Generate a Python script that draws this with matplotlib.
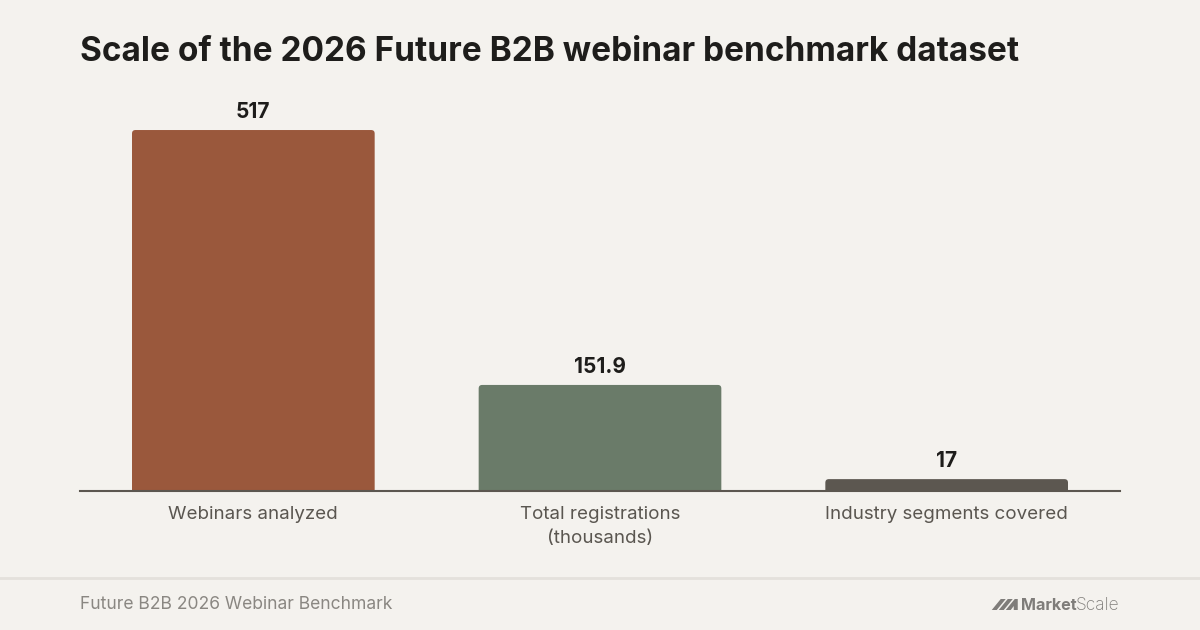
import matplotlib
matplotlib.use("Agg")
import matplotlib.pyplot as plt
from matplotlib.patches import FancyBboxPatch, Polygon
from matplotlib.lines import Line2D

categories = ["Webinars analyzed", "Total registrations\n(thousands)", "Industry segments covered"]
values = [517, 151.9, 17]
value_labels = ["517", "151.9", "17"]
bar_colors = ["#9A583C", "#6A7B69", "#5C5750"]

title = "Scale of the 2026 Future B2B webinar benchmark dataset"
footer = "Future B2B 2026 Webinar Benchmark"

BG = "#F4F2EE"
plt.rcParams['font.family'] = ['Inter', 'DejaVu Sans']

W, H = 1200, 630
fig = plt.figure(figsize=(W / 100, H / 100), dpi=100, facecolor=BG)

# axes: x 80..1120 px, y (from top) 100..491 px
ax = fig.add_axes([80 / W, 1 - 491 / H, 1040 / W, 391 / H])
ax.set_facecolor(BG)
ymax = 560
ax.set_xlim(-0.5, 2.5)
ax.set_ylim(0, ymax)

bars = ax.bar(range(len(values)), values, width=0.70, color=bar_colors)
xpp = 3 / 1040.0
ypp = ymax / 391.0
r = 3.5
for b, c in zip(bars, bar_colors):
    x0, w, h = b.get_x(), b.get_width(), b.get_height()
    b.set_visible(False)
    ext = r * ypp
    p = FancyBboxPatch((x0, -ext), w, h + ext,
                       boxstyle=f"round,pad=0,rounding_size={r * xpp}",
                       mutation_aspect=ypp / xpp,
                       facecolor=c, edgecolor="none", zorder=2)
    ax.add_patch(p)

for i, (v, lab) in enumerate(zip(values, value_labels)):
    ax.annotate(lab, (i, v), xytext=(0, 12), textcoords="offset pixels",
                ha="center", va="baseline", fontsize=15, fontweight="bold",
                color="#1E1D1B")

for s in ["top", "right", "left"]:
    ax.spines[s].set_visible(False)
ax.spines["bottom"].set_color("#5C5750")
ax.spines["bottom"].set_linewidth(1.5)
ax.spines["bottom"].set_zorder(3)
ax.set_yticks([])
ax.set_xticks(range(len(categories)))
ax.set_xticklabels(categories, fontsize=13.5, color="#5A5650", linespacing=1.5)
ax.tick_params(axis="x", length=0, pad=11)

fig.text(80 / W, 1 - 61 / H, title, fontsize=24, fontweight="bold",
         color="#1E1D1B", ha="left", va="baseline")

# footer separator
fig.add_artist(Line2D([0, 1], [1 - 578 / H, 1 - 578 / H], color="#E4E1DC",
                      linewidth=2, transform=fig.transFigure))
fig.text(80 / W, 1 - 609 / H, footer, fontsize=12.6, color="#8A8782",
         ha="left", va="baseline")

# MarketScale logo
gray = "#7F7D7A"
t1 = fig.text(1119 / W, 1 - 610 / H, "Scale", fontsize=12.5, color=gray,
              ha="right", va="baseline", fontweight="light")
fig.canvas.draw()
bb = t1.get_window_extent()
t2 = fig.text((bb.x0 + 1) / W, 1 - 610 / H, "Market", fontsize=11.6, color=gray,
              ha="right", va="baseline", fontweight="bold")
fig.canvas.draw()
bb2 = t2.get_window_extent()
xr = bb2.x0 - 3          # right edge of icon
yb = H - 610
yt = H - 599
icon_shapes = [
    [(xr - 26, yb), (xr - 21, yb), (xr - 12, yt), (xr - 17, yt)],
    [(xr - 19, yb), (xr - 14, yb), (xr - 5, yt), (xr - 10, yt)],
    [(xr - 12, yb), (xr - 7, yb), (xr - 4, yb + 4), (xr - 4, yb), (xr, yb), (xr, yt), (xr - 3, yt)],
]
for poly in icon_shapes:
    fig.add_artist(Polygon([(px / W, py / H) for px, py in poly], closed=True,
                           facecolor=gray, edgecolor="none",
                           transform=fig.transFigure))

fig.savefig("out.png", dpi=100, facecolor=BG)
